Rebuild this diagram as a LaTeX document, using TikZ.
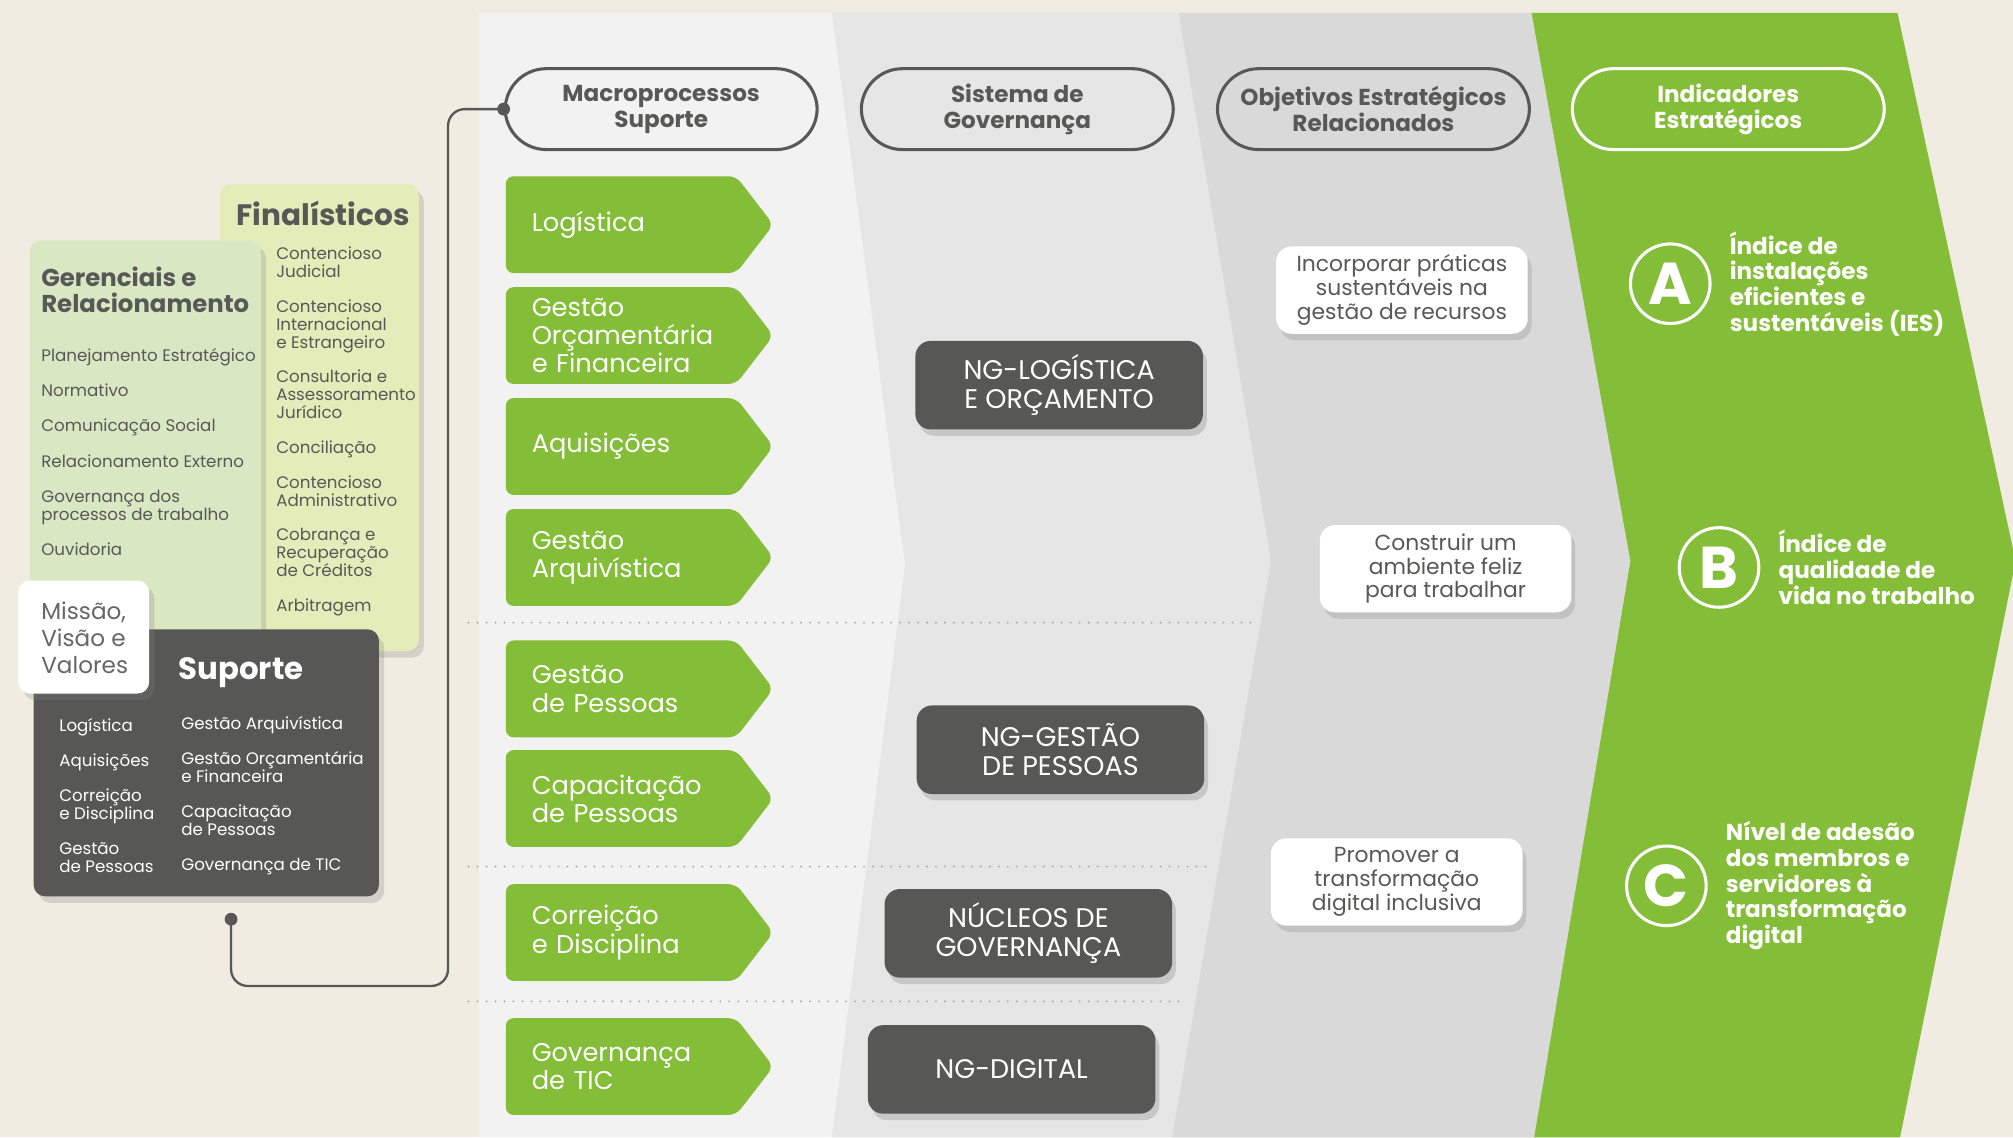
\documentclass[tikz,border=0pt]{standalone}
\usepackage{fontspec}
\setmainfont{Poppins}
\usepackage{xcolor}
\usetikzlibrary{calc,positioning,shadows,backgrounds}

\definecolor{paper}{HTML}{F0ECE1}
\definecolor{laneA}{HTML}{F2F2F2}
\definecolor{laneB}{HTML}{E7E6E7}
\definecolor{laneC}{HTML}{D9D9D9}
\definecolor{leaf}{HTML}{84BD37}
\definecolor{slate}{HTML}{575756}
\definecolor{ink}{HTML}{585857}
\definecolor{lime}{HTML}{E4EDB9}
\definecolor{sage}{HTML}{DAE7C3}

\pgfdeclarelayer{lanes}
\pgfsetlayers{lanes,background,main}

\begin{document}
\begin{tikzpicture}[x=1pt,y=-1pt,
  head/.style={draw=ink,line width=2.4pt,rounded corners=32pt,
    minimum width=243pt,minimum height=63pt,align=center,text=ink,
    font=\bfseries\fontsize{18}{20.5}\selectfont},
  macro/.style={minimum width=179pt,minimum height=75pt,text width=139pt,
    inner xsep=20pt,inner ysep=2pt,align=left,text=white,
    font=\fontsize{20}{22}\selectfont},
  ngbox/.style={fill=slate,rounded corners=12pt,minimum width=224pt,
    minimum height=69pt,align=center,text=white,inner ysep=2pt,
    font=\fontsize{21}{22.5}\selectfont,
    drop shadow={opacity=.3,shadow xshift=3pt,shadow yshift=-5pt}},
  goal/.style={fill=white,rounded corners=12pt,minimum width=196pt,
    minimum height=68pt,align=center,text=ink,inner ysep=2pt,
    font=\fontsize{17}{18.5}\selectfont,
    drop shadow={opacity=.25,shadow xshift=3pt,shadow yshift=-5pt}},
  badge/.style={circle,draw=white,line width=2.4pt,minimum size=62pt,
    inner sep=0pt,text=white,font=\bfseries\fontsize{46}{46}\selectfont},
  ind/.style={right=14pt of #1,align=left,text=white,inner sep=0pt,
    font=\bfseries\fontsize{18}{20}\selectfont},
  card/.style={rounded corners=9pt,anchor=north west,
    drop shadow={opacity=.25,shadow xshift=4pt,shadow yshift=-5pt}},
  list/.style={anchor=west,align=left,inner sep=0pt,text=ink,
    font=\fontsize{13}{14}\selectfont},
  sep/.style={draw=black!35,line width=1.6pt,line cap=round,
    dash pattern=on 0pt off 7pt},
  link/.style={draw=ink,line width=1.8pt,rounded corners=13pt}]
\useasboundingbox (0,0) rectangle (1568,886);
\begin{pgfonlayer}{lanes}
\fill[paper] (0,0) rectangle (1568,886);
\fill[laneA] (373,10) rectangle (1000,886);
\fill[laneB] (648,10) -- (918,10) -- (990,437) -- (913,886) -- (648,886)
  -- (705,440) -- cycle;
\fill[laneC] (918,10) -- (1193,10) -- (1270,437) -- (1195,886) -- (913,886)
  -- (990,437) -- cycle;
\fill[leaf] (1193,10) -- (1478,10) -- (1570,437) -- (1480,886) -- (1195,886)
  -- (1270,437) -- cycle;
\end{pgfonlayer}

\node[card,fill=lime,minimum width=155pt,minimum height=364pt] (fin) at (171,143) {};
\node[list,font=\bfseries\fontsize{23}{26}\selectfont] (finT) at (184,166) {Finalísticos};
\node[list] (finL) at (215,336) {Contencioso\\Judicial\\[13pt]Contencioso\\Internacional\\e Estrangeiro\\[13pt]Consultoria e\\Assessoramento\\Jurídico\\[13pt]Conciliação\\[13pt]Contencioso\\Administrativo\\[13pt]Cobrança e\\Recuperação\\de Créditos\\[13pt]Arbitragem};
\node[card,fill=sage,minimum width=180pt,minimum height=320pt] (ger) at (23,187) {};
\node[list,font=\bfseries\fontsize{19}{20}\selectfont] (gerT) at (32,226) {Gerenciais e\\Relacionamento};
\node[list] (gerL) at (32,352) {Planejamento Estratégico\\[13.5pt]Normativo\\[13.5pt]Comunicação Social\\[13.5pt]Relacionamento Externo\\[13.5pt]Governança dos\\processos de trabalho\\[13.5pt]Ouvidoria};
\node[card,fill=slate,minimum width=269pt,minimum height=208pt] (sup) at (26,490) {};
\node[list,text=white,font=\bfseries\fontsize{24}{26}\selectfont] (supT) at (139,524) {Suporte};
\node[list,text=white] (supL) at (46,620) {Logística\\[13.3pt]Aquisições\\[13.3pt]Correição\\e Disciplina\\[13.3pt]Gestão\\de Pessoas};
\node[list,text=white] (supR) at (141,620) {Gestão Arquivística\\[13.3pt]Gestão Orçamentária\\e Financeira\\[13.3pt]Capacitação\\de Pessoas\\[13.3pt]Governança de TIC};
\node[card,fill=white,minimum width=102pt,minimum height=88pt] (mis) at (14,452) {};
\node[list,text=black!60,font=\fontsize{18}{21}\selectfont] (misT) at (32,497) {Missão,\\Visão e\\Valores};

\node[head] (mac) at (515,85) {Macroprocessos\\Suporte};
\node[head,right=32pt of mac] (sis) {Sistema de\\Governança};
\node[head,right=32pt of sis] (obj) {Objetivos Estratégicos\\Relacionados};
\node[head,right=31pt of obj,draw=white,text=white] (ind) {Indicadores\\Estratégicos};

\node[macro,anchor=west] (logi) at (394,175) {Logística};
\node[macro,below=11pt of logi] (orca) {Gestão\\Orçamentária\\e Financeira};
\node[macro,below=11pt of orca] (aqui) {Aquisições};
\node[macro,below=11pt of aqui] (arqu) {Gestão\\Arquivística};
\node[macro,below=27pt of arqu] (gpes) {Gestão\\de Pessoas};
\node[macro,below=10pt of gpes] (capa) {Capacitação\\de Pessoas};
\node[macro,below=29pt of capa] (corr) {Correição\\e Disciplina};
\node[macro,below=29pt of corr] (gtic) {Governança\\de TIC};
\begin{pgfonlayer}{background}
\foreach \m in {logi,orca,aqui,arqu,gpes,capa,corr,gtic}
  \fill[leaf,rounded corners=6pt] (\m.north west) -- (\m.north east)
    -- ($(\m.east)+(29,0)$) -- (\m.south east) -- (\m.south west) -- cycle;
\end{pgfonlayer}

\draw[sep] (365,485) -- (975,485);
\draw[sep] (365,675) -- (942,675);
\draw[sep] (365,780) -- (925,780);

\node[ngbox] (ngA) at (825,300) {NG-LOGÍSTICA\\E ORÇAMENTO};
\node[ngbox] (ngB) at (826,584) {NG-GESTÃO\\DE PESSOAS};
\node[ngbox] (ngC) at (801,727) {NÚCLEOS DE\\GOVERNANÇA};
\node[ngbox] (ngD) at (788,833) {NG-DIGITAL};

\node[goal] (goA) at (1092,226) {Incorporar práticas\\sustentáveis na\\gestão de recursos};
\node[goal] (goB) at (1126,443) {Construir um\\ambiente feliz\\para trabalhar};
\node[goal] (goC) at (1088,687) {Promover a\\transformação\\digital inclusiva};

\node[badge] (badA) at (1301,221) {A};
\node[badge] (badB) at (1339,442) {B};
\node[badge] (badC) at (1298,690) {C};
\node[ind=badA] (indA) {Índice de\\instalações\\eficientes e\\sustentáveis (IES)};
\node[ind=badB] (indB) {Índice de\\qualidade de\\vida no trabalho};
\node[ind=badC] (indC) {Nível de adesão\\dos membros e\\servidores à\\transformação\\digital};

\coordinate (tail) at (180,716);
\coordinate (bend) at (349,768);
\draw[link] (tail) |- (bend) |- (mac.west);
\fill[ink] (tail) circle (5pt);
\fill[ink] (mac.west) circle (5pt);
\end{tikzpicture}
\end{document}
